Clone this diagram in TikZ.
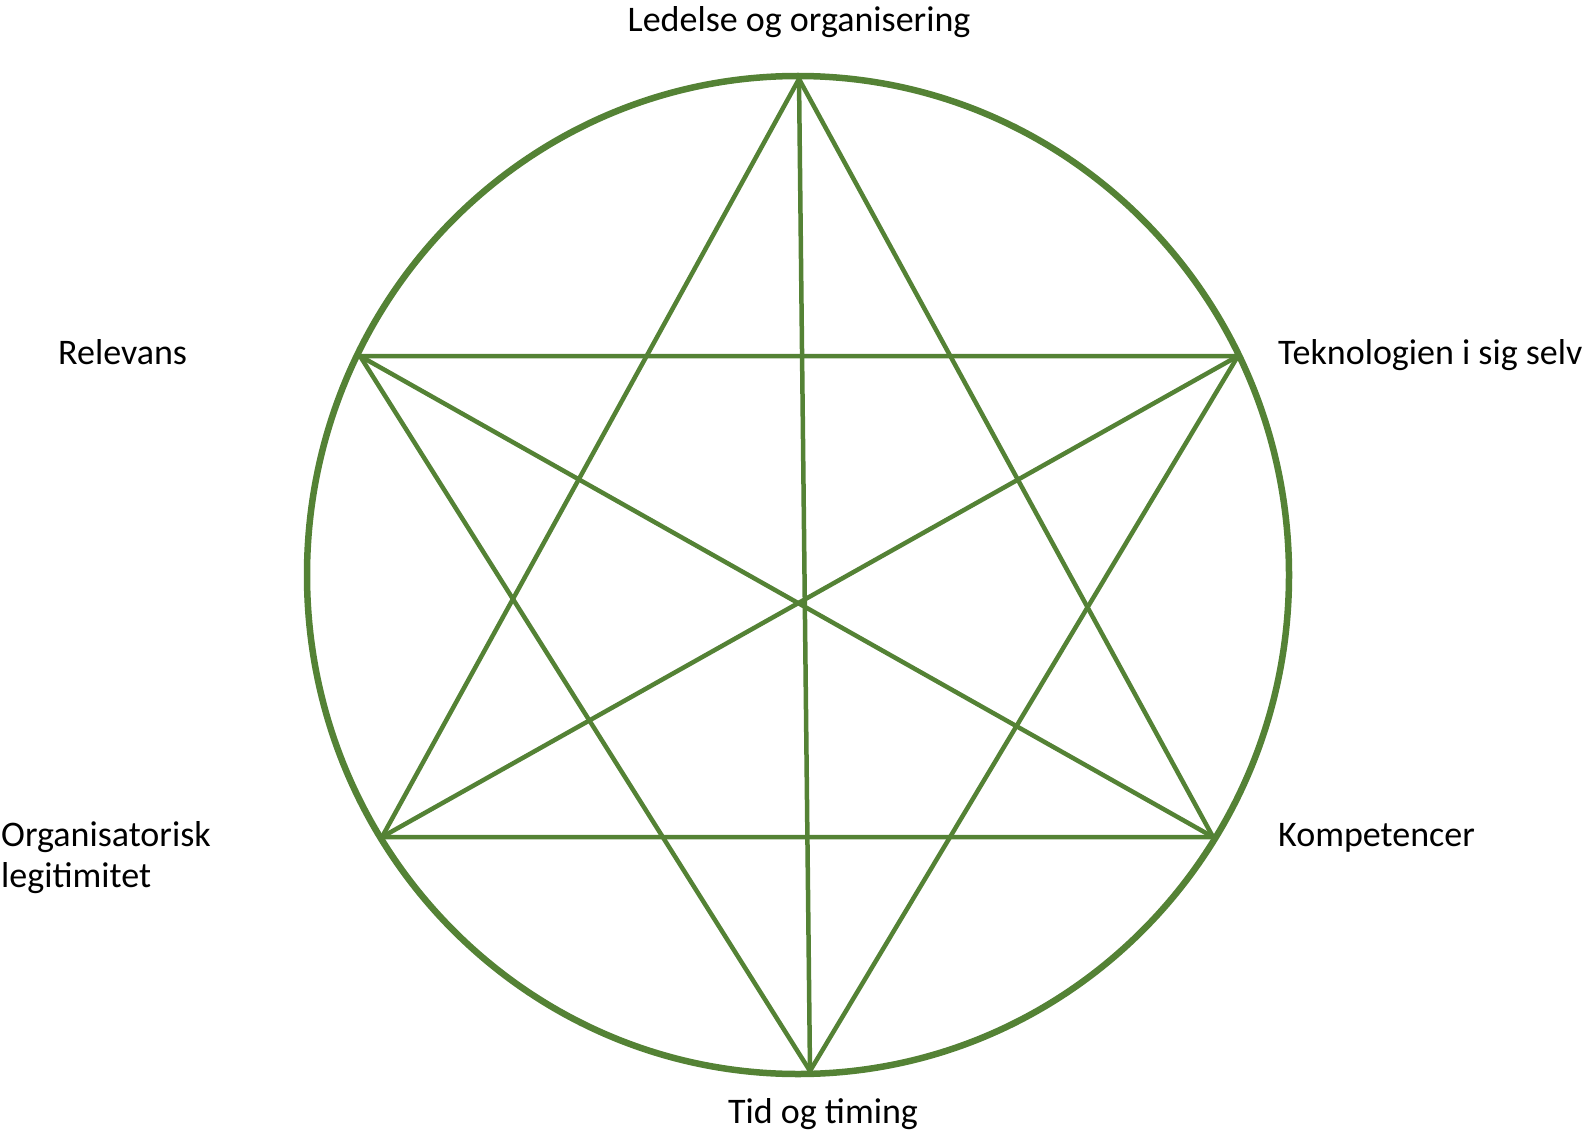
\documentclass[tikz,border=0pt]{standalone}
\usepackage{fontspec}
\setmainfont{Carlito}
\usepackage{xcolor}
\usepackage{tikz}
\usetikzlibrary{positioning}
\definecolor{stargreen}{RGB}{84,130,53}

\begin{document}
\begin{tikzpicture}[x=1pt, y=-1pt,
    ring/.style={draw=stargreen, line width=6.5pt},
    spoke/.style={draw=stargreen, line width=4.5pt, line join=round, line cap=round},
    factor/.style={font=\fontsize{36}{41}\selectfont, align=left, inner sep=0pt}
]
\useasboundingbox (0,0) rectangle (1588,1134);

% star corners on the circle
\coordinate (ledelse) at (799,79);
\coordinate (teknologi) at (1238,356);
\coordinate (kompetence) at (1213,837);
\coordinate (tid) at (810,1071);
\coordinate (legitimitet) at (382,837);
\coordinate (relevans) at (360,356);

\draw[ring] (798,575) ellipse [x radius=491, y radius=499];

% two triangles and three diagonals
\draw[spoke] (ledelse) -- (kompetence) -- (legitimitet) -- cycle;
\draw[spoke] (relevans) -- (teknologi) -- (tid) -- cycle;
\draw[spoke] (ledelse) -- (tid);
\draw[spoke] (relevans) -- (kompetence);
\draw[spoke] (teknologi) -- (legitimitet);

\node[factor, anchor=base] (ledelseText) at (799,32) {Ledelse og organisering};
\node[factor, anchor=base west] (teknologiText) at (1278,364) {Teknologien i sig selv};
\node[factor, anchor=base west] (relevansText) at (58,364) {Relevans};
\node[factor, anchor=base west] (kompetenceText) at (1278,846) {Kompetencer};
\node[factor, anchor=base west] (legitimitetText) at (1,887) {Organisatorisk\\legitimitet};
\node[factor, anchor=base] (tidText) at (823,1123) {Tid og timing};
\end{tikzpicture}
\end{document}
